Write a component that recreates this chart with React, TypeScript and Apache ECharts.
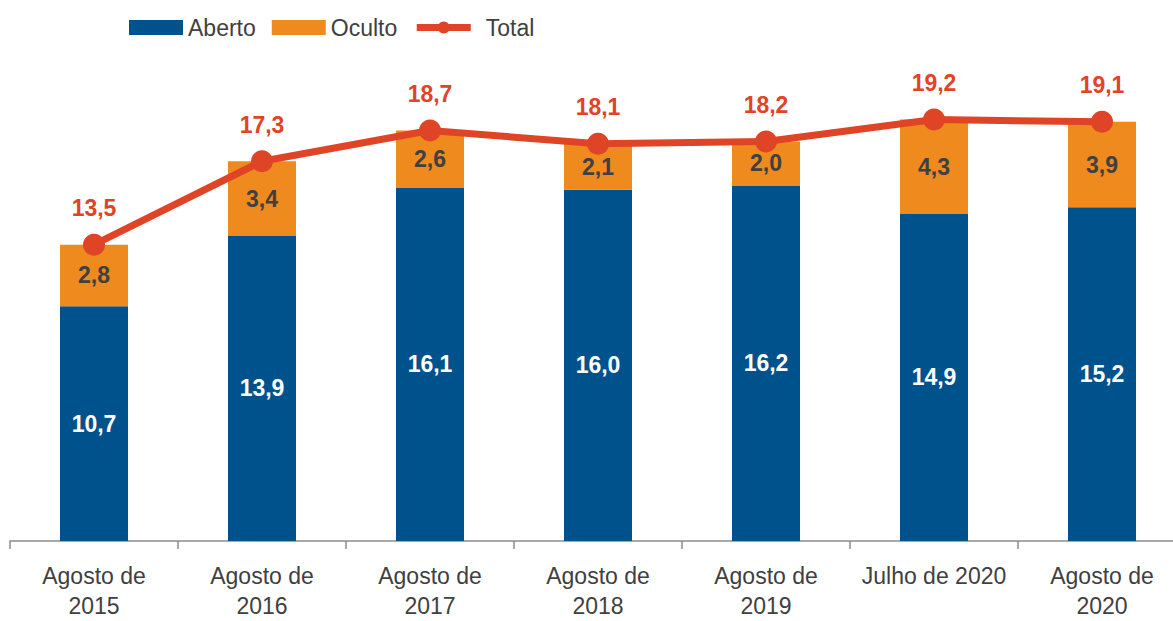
import React, { useEffect, useRef } from "react";
import * as echarts from "echarts";

const categories = ["Agosto de\n2015", "Agosto de\n2016", "Agosto de\n2017", "Agosto de\n2018", "Agosto de\n2019", "Julho de 2020", "Agosto de\n2020"];
const aberto = [10.7, 13.9, 16.1, 16.0, 16.2, 14.9, 15.2];
const oculto = [2.8, 3.4, 2.6, 2.1, 2.0, 4.3, 3.9];
const total = [13.5, 17.3, 18.7, 18.1, 18.2, 19.2, 19.1];

const FONT = "'Liberation Sans Narrow', 'Arial Narrow', 'Liberation Sans', Arial, sans-serif";
const fmt = (p: any) => Number(p.value).toFixed(1).replace(".", ",");

export default function App() {
  const ref = useRef<HTMLDivElement>(null);
  useEffect(() => {
    if (!ref.current) return;
    const chart = echarts.init(ref.current, null, { renderer: "svg" });
    chart.setOption({
      animation: false,
      textStyle: { fontFamily: FONT },
      legend: {
        left: 124,
        top: 11,
        itemWidth: 54,
        itemHeight: 15,
        itemGap: 16,
        textStyle: { fontSize: 23, color: "#404040", fontFamily: FONT },
        data: [
          { name: "Aberto", icon: "rect" },
          { name: "Oculto", icon: "rect" },
          { name: "Total", lineStyle: { width: 7 }, itemStyle: { color: "#E04426" }, textStyle: { padding: [0, 0, 0, 10] } },
        ],
      },
      grid: { left: 10, width: 1176, top: 102, bottom: 80, containLabel: false },
      xAxis: {
        type: "category",
        data: categories,
        axisLine: { lineStyle: { color: "#8c8c8c", width: 1.5 } },
        axisTick: { show: true, length: 8, lineStyle: { color: "#8c8c8c", width: 1.5 } },
        axisLabel: { fontSize: 23, color: "#404040", lineHeight: 30, margin: 20, fontFamily: FONT, interval: 0 },
      },
      yAxis: { type: "value", min: 0, max: 20, show: false, splitLine: { show: false } },
      series: [
        {
          name: "Aberto",
          type: "bar",
          stack: "a",
          barWidth: 68,
          data: aberto,
          itemStyle: { color: "#00528C" },
          label: { show: true, position: "inside", color: "#ffffff", fontWeight: "bold", fontSize: 23, fontFamily: FONT, formatter: fmt },
        },
        {
          name: "Oculto",
          type: "bar",
          stack: "a",
          barWidth: 68,
          data: oculto,
          itemStyle: { color: "#EE8A1E" },
          label: { show: true, position: "inside", color: "#404040", fontWeight: "bold", fontSize: 23, fontFamily: FONT, formatter: fmt },
        },
        {
          name: "Total",
          type: "line",
          data: total,
          symbol: "circle",
          symbolSize: 22,
          itemStyle: { color: "#E04426" },
          lineStyle: { color: "#E04426", width: 7 },
          label: { show: true, position: "top", distance: 14, color: "#E04426", fontWeight: "bold", fontSize: 23, fontFamily: FONT, formatter: fmt },
          z: 5,
        },
      ],
    });
    return () => chart.dispose();
  }, []);
  return (
    <div style={{ position: "absolute", left: 0, top: 0, width: 1173, height: 621, overflow: "hidden" }}>
      <div ref={ref} style={{ width: 1196, height: 621 }} />
    </div>
  );
}
